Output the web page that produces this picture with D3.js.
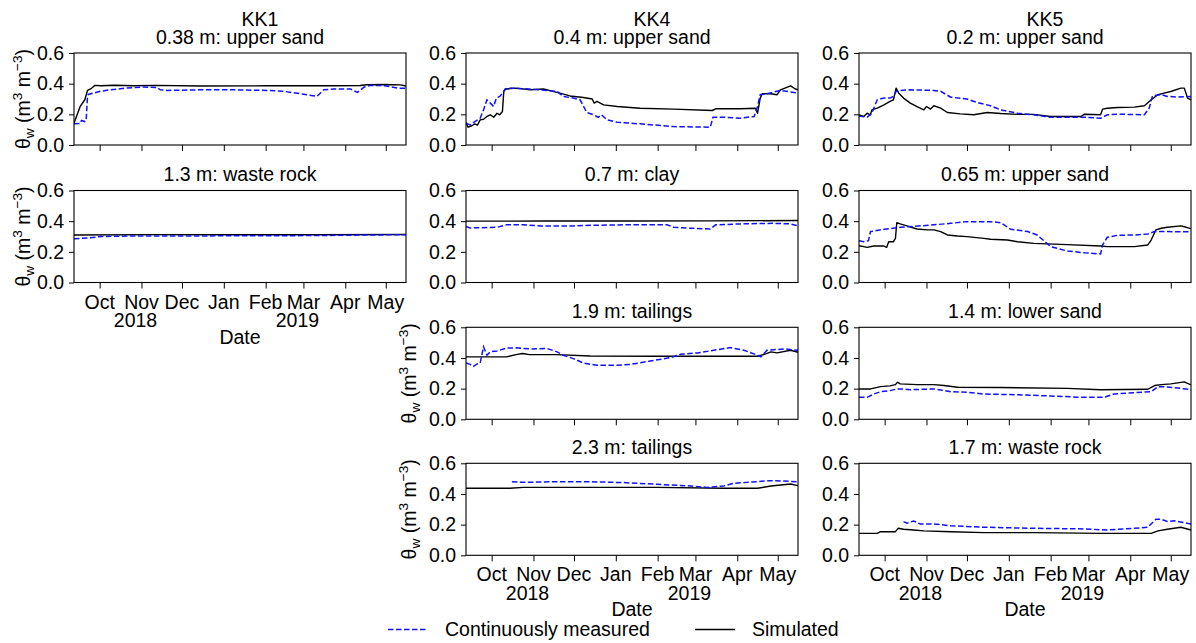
<!DOCTYPE html>
<html><head><meta charset="utf-8">
<script src="https://cdn.jsdelivr.net/npm/d3@7"></script>
<style>
body{margin:0;background:#fff}
svg{display:block}
text{font-family:"Liberation Sans",Arial,Helvetica,sans-serif;fill:#000}
</style>
</head><body>
<svg id="chart" width="1196" height="643"></svg>
<script>
// ---------- data ----------
const startDay = "2018-09-12";   // day 0 of the series
const endDay   = "2019-05-16";
const monthTicks  = ["2018-10-01","2018-11-01","2018-12-01","2019-01-01","2019-02-01","2019-03-01","2019-04-01","2019-05-01"];
const monthLabels = ["Oct","Nov","Dec","Jan","Feb","Mar","Apr","May"];
const yearLabels  = ["","2018","","","","2019","",""];
const yTicks = [0.0, 0.2, 0.4, 0.6];
const sites = ["KK1","KK4","KK5"];
const legendLabels = ["Continuously measured","Simulated"];
const xLabel = "Date";

// series: [day since startDay, volumetric water content]
const kk1_038_meas = [[0,0.138],[4.5,0.14],[5.5,0.16],[8,0.153],[9,0.16],[10,0.317],[10.5,0.33],[19.5,0.35],[26.5,0.36],[39,0.371],[51.5,0.378],[61.5,0.375],[64,0.36],[69,0.356],[93.5,0.36],[118,0.36],[143,0.356],[155.5,0.35],[168,0.334],[180,0.317],[185,0.36],[192.5,0.365],[205,0.365],[210,0.343],[215,0.378],[220,0.389],[230,0.387],[234.5,0.38],[239.5,0.371],[246,0.37]];
const kk1_038_sim  = [[0,0.142],[4.5,0.25],[8,0.295],[10,0.356],[13,0.37],[15.5,0.389],[20,0.386],[30,0.39],[44,0.386],[60,0.389],[93.5,0.385],[143,0.386],[192.5,0.386],[212,0.388],[217,0.393],[230,0.395],[242,0.392],[246,0.385]];
const kk1_13_meas  = [[0,0.285],[10,0.29],[20,0.3],[40,0.303],[100,0.304],[160,0.305],[200,0.308],[246,0.312]];
const kk1_13_sim   = [[0,0.31],[60,0.312],[120,0.311],[180,0.311],[246,0.313]];

const kk4_04_meas  = [[0,0.142],[3,0.131],[6.5,0.153],[10.5,0.175],[13,0.229],[15.5,0.295],[18,0.273],[20.5,0.251],[22.5,0.306],[25,0.317],[27.5,0.343],[29,0.365],[32.5,0.371],[42.5,0.367],[55,0.36],[67.5,0.35],[72,0.317],[79.5,0.306],[84.5,0.295],[89.5,0.212],[94.5,0.197],[98,0.181],[100.5,0.197],[104.5,0.164],[112,0.148],[129,0.138],[154,0.12],[181,0.116],[183,0.181],[191,0.181],[203.5,0.175],[213.5,0.186],[216,0.251],[218,0.328],[223,0.334],[233,0.356],[246,0.338]];
const kk4_04_sim   = [[0,0.146],[1.5,0.116],[4,0.124],[6.5,0.138],[8.5,0.13],[10.5,0.164],[13,0.168],[15.5,0.186],[18,0.197],[20.5,0.181],[23,0.207],[25,0.197],[27,0.218],[28,0.35],[29.5,0.365],[37.5,0.371],[47.5,0.36],[57.5,0.365],[67.5,0.343],[77,0.32],[87,0.31],[93.5,0.3],[95,0.273],[97,0.284],[102,0.262],[112,0.251],[129,0.24],[154,0.234],[182.5,0.225],[185,0.236],[203.5,0.236],[214.5,0.24],[216,0.207],[218,0.306],[219.5,0.334],[225.5,0.334],[230.5,0.328],[233,0.36],[240.5,0.386],[244,0.365],[246,0.36]];
const kk4_07_meas  = [[0,0.365],[3,0.356],[23,0.36],[30,0.376],[42.5,0.376],[55,0.369],[79.5,0.369],[92,0.373],[117,0.376],[149,0.376],[154,0.36],[166.5,0.354],[181,0.349],[185,0.376],[203.5,0.382],[228,0.386],[240.5,0.382],[246,0.369]];
const kk4_07_sim   = [[0,0.4],[60,0.401],[120,0.401],[180,0.402],[246,0.404]];
const kk4_19_meas  = [[0,0.367],[3,0.358],[5.5,0.345],[8,0.36],[10.5,0.367],[13,0.473],[15.5,0.418],[18,0.44],[23,0.446],[30,0.464],[37.5,0.466],[47.5,0.459],[60,0.462],[67.5,0.44],[72,0.418],[79.5,0.396],[87,0.367],[97,0.352],[112,0.352],[122,0.358],[136.5,0.38],[151.5,0.402],[159,0.424],[171.5,0.433],[183.5,0.45],[196,0.468],[206,0.45],[216,0.418],[218.5,0.407],[223,0.45],[236,0.459],[246,0.45]];
const kk4_19_sim   = [[0,0.407],[30,0.407],[37,0.422],[42,0.429],[47,0.422],[67,0.422],[92,0.413],[141.5,0.411],[216,0.411],[221,0.424],[226,0.44],[230.5,0.433],[240.5,0.45],[246,0.437]];
const kk4_23_meas  = [[34,0.48],[42.5,0.476],[67.5,0.48],[92,0.48],[117,0.474],[141.5,0.463],[166.5,0.452],[178.5,0.443],[191,0.452],[198.5,0.47],[216,0.48],[223,0.487],[233,0.485],[246,0.48]];
const kk4_23_sim   = [[0,0.437],[32.5,0.437],[42.5,0.443],[141.5,0.443],[191,0.437],[216,0.437],[226,0.452],[240.5,0.465],[246,0.454]];

const kk5_02_meas  = [[0,0.19],[6,0.181],[9.5,0.207],[13.5,0.295],[18.5,0.306],[23,0.306],[25.5,0.317],[27.5,0.35],[30.5,0.356],[38,0.36],[55.5,0.356],[60.5,0.35],[68,0.312],[80,0.3],[87.5,0.277],[97.5,0.256],[105,0.229],[117.5,0.207],[129.5,0.197],[142,0.181],[167,0.181],[179,0.175],[184,0.197],[191.5,0.201],[211.5,0.197],[215,0.24],[217.5,0.321],[224,0.328],[228.5,0.317],[236,0.312],[246,0.317]];
const kk5_02_sim   = [[0,0.197],[3.5,0.186],[6,0.207],[8.5,0.197],[9.5,0.229],[13.5,0.24],[18.5,0.262],[23,0.284],[25.5,0.295],[27.5,0.371],[29.5,0.338],[33,0.306],[38,0.273],[43,0.251],[48,0.229],[50,0.251],[53,0.234],[55.5,0.256],[60.5,0.24],[65.5,0.212],[75,0.203],[85,0.197],[95,0.212],[105,0.205],[117.5,0.2],[129.5,0.2],[142,0.186],[164.5,0.186],[167,0.201],[179,0.197],[180.5,0.234],[184,0.24],[191.5,0.245],[204,0.247],[211.5,0.256],[216.5,0.295],[221.5,0.328],[226,0.338],[231,0.349],[238.5,0.371],[241,0.371],[243.5,0.306],[246,0.295]];
const kk5_065_meas = [[0,0.273],[3.5,0.266],[7,0.273],[8.5,0.332],[18.5,0.347],[30.5,0.36],[55.5,0.376],[68,0.386],[80,0.397],[97.5,0.397],[105,0.39],[112.5,0.347],[125,0.332],[132,0.31],[142,0.234],[154.5,0.205],[167,0.194],[179,0.186],[180.5,0.245],[184,0.295],[191.5,0.308],[204,0.31],[214,0.317],[219,0.332],[228.5,0.332],[246,0.33]];
const kk5_065_sim  = [[0,0.24],[3.5,0.234],[6,0.229],[11,0.238],[18.5,0.238],[20.5,0.229],[22,0.266],[25.5,0.266],[27,0.288],[28,0.39],[30.5,0.382],[35.5,0.369],[43,0.349],[50.5,0.343],[55.5,0.343],[60.5,0.332],[65.5,0.31],[73,0.303],[80,0.299],[92.5,0.288],[97.5,0.282],[110,0.277],[117.5,0.266],[129.5,0.255],[154.5,0.247],[179,0.238],[184,0.234],[204,0.234],[214,0.245],[216.5,0.277],[220,0.343],[224,0.354],[228.5,0.36],[238.5,0.369],[242.5,0.36],[246,0.351]];
const kk5_14_meas  = [[0,0.143],[6,0.143],[11,0.165],[16,0.18],[23,0.187],[28,0.198],[33,0.198],[38,0.193],[55.5,0.198],[60.5,0.191],[68,0.18],[80,0.176],[92.5,0.165],[117.5,0.16],[142,0.152],[167,0.143],[181.5,0.143],[189,0.165],[204,0.174],[216.5,0.18],[221.5,0.213],[226,0.213],[236,0.204],[246,0.193]];
const kk5_14_sim   = [[0,0.198],[8.5,0.198],[16,0.213],[23,0.218],[27,0.226],[28.5,0.242],[30.5,0.231],[43,0.226],[55.5,0.226],[63,0.22],[73,0.209],[105,0.207],[154.5,0.202],[179,0.193],[214,0.196],[219,0.22],[224,0.226],[231,0.231],[241,0.244],[246,0.224]];
const kk5_17_meas  = [[33,0.22],[35.5,0.209],[40.5,0.224],[45.5,0.204],[55.5,0.204],[68,0.193],[92.5,0.183],[129.5,0.176],[167,0.172],[184,0.165],[204,0.176],[214,0.183],[220,0.235],[224,0.235],[228.5,0.22],[233.5,0.226],[246,0.204]];
const kk5_17_sim   = [[0,0.143],[13.5,0.143],[16,0.154],[27,0.154],[29,0.176],[33,0.17],[40.5,0.165],[48,0.159],[68,0.154],[92.5,0.148],[129.5,0.148],[179,0.143],[216.5,0.143],[221.5,0.159],[228.5,0.17],[238.5,0.183],[246,0.165]];

// panel table built from the arrays above
const panels = [
  {col:0,row:0,title:"0.38 m: upper sand",meas:kk1_038_meas,sim:kk1_038_sim,ylab:true},
  {col:0,row:1,title:"1.3 m: waste rock", meas:kk1_13_meas, sim:kk1_13_sim, ylab:true,bottom:true},
  {col:1,row:0,title:"0.4 m: upper sand", meas:kk4_04_meas, sim:kk4_04_sim},
  {col:1,row:1,title:"0.7 m: clay",       meas:kk4_07_meas, sim:kk4_07_sim},
  {col:1,row:2,title:"1.9 m: tailings",   meas:kk4_19_meas, sim:kk4_19_sim, ylab:true},
  {col:1,row:3,title:"2.3 m: tailings",   meas:kk4_23_meas, sim:kk4_23_sim, ylab:true,bottom:true},
  {col:2,row:0,title:"0.2 m: upper sand", meas:kk5_02_meas, sim:kk5_02_sim},
  {col:2,row:1,title:"0.65 m: upper sand",meas:kk5_065_meas,sim:kk5_065_sim},
  {col:2,row:2,title:"1.4 m: lower sand", meas:kk5_14_meas, sim:kk5_14_sim},
  {col:2,row:3,title:"1.7 m: waste rock", meas:kk5_17_meas, sim:kk5_17_sim,bottom:true}
];

// ---------- layout ----------
const FS = 19.5;
const colLeft = [74, 466, 859];
const rowTop = [53, 190.5, 327.3, 463.3];
const W = 332, H = 92;
const yLabOffset = [-44, -50, -50];
const BLUE = "#1010ff";

const parse = d3.utcParse("%Y-%m-%d");
const t0 = parse(startDay), t1 = parse(endDay);
const toDate = d => d3.utcDay.offset(t0, 0) .getTime() + d*86400000;

const x = d3.scaleUtc().domain([t0, t1]).range([0, W]);
const y = d3.scaleLinear().domain([0, 0.6]).range([H, 0]);
const tickDates = monthTicks.map(parse);

const svg = d3.select("#chart");

const line = d3.line()
  .x(d => x(new Date(toDate(d[0]))))
  .y(d => y(d[1]));

// site titles
sites.forEach((s, i) => {
  svg.append("text")
    .attr("x", colLeft[i] + W/2 + 20).attr("y", 26)
    .attr("text-anchor", "middle").attr("font-size", FS).text(s);
});

panels.forEach(p => {
  const g = svg.append("g").attr("transform", `translate(${colLeft[p.col]},${rowTop[p.row]})`);

  // subtitle
  g.append("text").attr("x", W/2).attr("y", -9.5).attr("text-anchor","middle")
    .attr("font-size", FS).text(p.title);

  // y axis
  const ya = g.append("g").call(d3.axisLeft(y).tickValues(yTicks).tickFormat(d3.format(".1f")).tickSize(5).tickPadding(5));
  ya.select(".domain").remove();
  ya.selectAll("text").attr("font-size", FS).attr("font-family", null);
  ya.selectAll("line").attr("stroke", "#000");

  // x axis
  const xa = g.append("g").attr("transform", `translate(0,${H})`)
    .call(d3.axisBottom(x).tickValues(tickDates).tickFormat("").tickSize(6));
  xa.select(".domain").remove();
  xa.selectAll("line").attr("stroke", "#000");

  if (p.bottom) {
    tickDates.forEach((d, i) => {
      g.append("text").attr("x", x(d)).attr("y", H + 26).attr("text-anchor","middle")
        .attr("font-size", FS).text(monthLabels[i]);
      if (yearLabels[i]) {
        g.append("text").attr("x", x(d) - 6).attr("y", H + 44.5).attr("text-anchor","middle")
          .attr("font-size", FS).text(yearLabels[i]);
      }
    });
    g.append("text").attr("x", W/2).attr("y", H + 61).attr("text-anchor","middle")
      .attr("font-size", FS).text(xLabel);
  }

  // clip & lines
  const cid = `clip${p.col}_${p.row}`;
  g.append("clipPath").attr("id", cid).append("rect").attr("width", W).attr("height", H);
  const lg = g.append("g").attr("clip-path", `url(#${cid})`);
  lg.append("path").datum(p.sim).attr("d", line)
    .attr("fill","none").attr("stroke","#000").attr("stroke-width",1.4).attr("stroke-linejoin","round");
  lg.append("path").datum(p.meas).attr("d", line)
    .attr("fill","none").attr("stroke",BLUE).attr("stroke-width",1.5).attr("stroke-dasharray","5.5,2.5");

  // frame
  g.append("rect").attr("width", W).attr("height", H)
    .attr("fill","none").attr("stroke","#000").attr("stroke-width",1.1);

  // y label
  if (p.ylab) {
    const t = g.append("text")
      .attr("transform", `translate(${yLabOffset[p.col]},${H/2}) rotate(-90)`)
      .attr("text-anchor","middle").attr("font-size", FS);
    t.append("tspan").text("θ");
    t.append("tspan").attr("font-size", FS*0.7).attr("dy", 4).text("w");
    t.append("tspan").attr("dy", -4).text(" (m");
    t.append("tspan").attr("font-size", FS*0.7).attr("dy", -8).text("3");
    t.append("tspan").attr("dy", 8).text(" m");
    t.append("tspan").attr("font-size", FS*0.7).attr("dy", -8).text("−3");
    t.append("tspan").attr("dy", 8).text(")");
  }
});

// legend
const leg = svg.append("g");
leg.append("line").attr("x1",388).attr("x2",427).attr("y1",629.5).attr("y2",629.5)
  .attr("stroke",BLUE).attr("stroke-width",1.5).attr("stroke-dasharray","5.5,2.5");
leg.append("text").attr("x",445).attr("y",636).attr("font-size",FS).text(legendLabels[0]);
leg.append("line").attr("x1",695).attr("x2",735).attr("y1",629.5).attr("y2",629.5)
  .attr("stroke","#000").attr("stroke-width",1.4);
leg.append("text").attr("x",752).attr("y",636).attr("font-size",FS).text(legendLabels[1]);
</script>
</body></html>
